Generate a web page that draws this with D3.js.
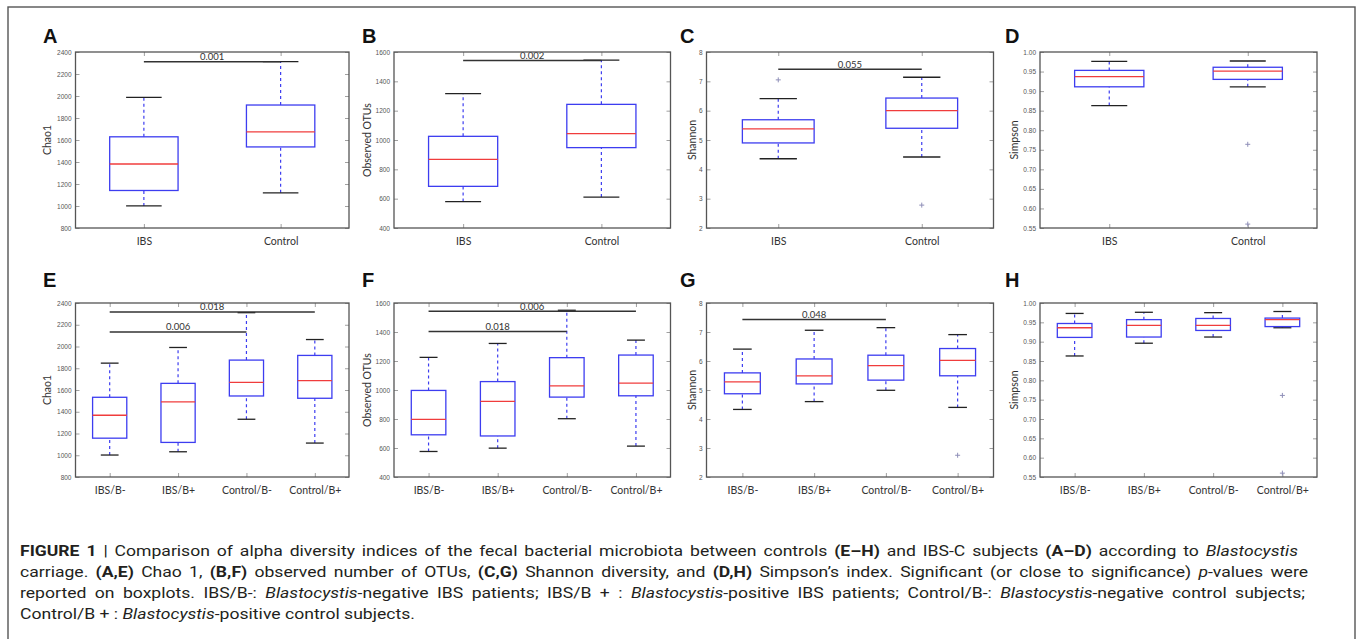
<!DOCTYPE html>
<html>
<head>
<meta charset="utf-8">
<script src="https://cdn.jsdelivr.net/npm/d3@7"></script>
<style>
  body { margin: 0; background: #fff; }
  svg { display: block; }
</style>
</head>
<body>
<svg id="fig" width="1358" height="639"></svg>
<script>
// categories
const groups2 = ["IBS", "Control"];
const groups4 = ["IBS/B-", "IBS/B+", "Control/B-", "Control/B+"];

// box stats: [lower whisker, Q1, median, Q3, upper whisker]
const chao1Top = [[1001, 1141, 1382, 1629, 1988], [1120, 1537, 1674, 1918, 2312]];
const otusTop = [[580, 684, 868, 1025, 1316], [611, 948, 1043, 1243, 1545]];
const shannonTop = [[4.36, 4.90, 5.38, 5.69, 6.41], [4.42, 5.40, 6.00, 6.43, 7.14]];
const simpsonTop = [[0.863, 0.911, 0.937, 0.953, 0.976], [0.911, 0.930, 0.951, 0.961, 0.977]];

const chao1Bottom = [[1002, 1157, 1368, 1533, 1847], [1032, 1118, 1490, 1661, 1991],
                     [1331, 1545, 1670, 1875, 2311], [1112, 1524, 1686, 1918, 2064]];
const otusBottom = [[576, 691, 798, 997, 1225], [599, 683, 921, 1058, 1321],
                    [802, 951, 1029, 1223, 1550], [613, 960, 1047, 1241, 1344]];
const shannonBottom = [[4.33, 4.87, 5.28, 5.59, 6.41], [4.60, 5.21, 5.49, 6.07, 7.06],
                       [4.99, 5.34, 5.84, 6.20, 7.15], [4.40, 5.49, 6.02, 6.43, 6.91]];
const simpsonBottom = [[0.863, 0.911, 0.936, 0.947, 0.973], [0.896, 0.912, 0.942, 0.957, 0.976],
                       [0.912, 0.929, 0.942, 0.960, 0.975], [0.936, 0.939, 0.957, 0.961, 0.978]];

// outliers: [category index, value]
const shannonTopOut = [[0, 7.05], [1, 2.78]];
const simpsonTopOut = [[1, 0.764], [1, 0.560]];
const shannonBottomOut = [[3, 2.75]];
const simpsonBottomOut = [[3, 0.761], [3, 0.560]];

// p-value bars: [from index, to index, y value, label]
const chao1TopP = [[0, 1, 2312, "0.001"]];
const otusTopP = [[0, 1, 1542, "0.002"]];
const shannonTopP = [[0, 1, 7.41, "0.055"]];
const chao1BottomP = [[0, 3, 2318, "0.018"], [0, 2, 2134, "0.006"]];
const otusBottomP = [[0, 3, 1543, "0.006"], [0, 2, 1403, "0.018"]];
const shannonBottomP = [[0, 2, 7.43, "0.048"]];

// y tick labels
const chao1Ticks = [800, 1000, 1200, 1400, 1600, 1800, 2000, 2200, 2400];
const otusTicks = [400, 600, 800, 1000, 1200, 1400, 1600];
const shannonTicks = [2, 3, 4, 5, 6, 7, 8];
const simpsonTicks = [0.55, 0.60, 0.65, 0.70, 0.75, 0.80, 0.85, 0.90, 0.95, 1.00];

const svg = d3.select("#fig");

// outer frame of the figure
svg.append("rect")
  .attr("x", 8).attr("y", 7).attr("width", 1347).attr("height", 660)
  .attr("fill", "none").attr("stroke", "#555").attr("stroke-width", 1.4);

// plot rectangles (layout only)
const cols = [[75.5, 349], [394, 670.5], [706.5, 993.5], [1040, 1317]];
const rows = [[52, 228], [303, 477]];
const ylabOffset = [28, 27, 14, 26];

const panels = [
  {letter: "A", cats: groups2, stats: chao1Top, out: [], p: chao1TopP, ticks: chao1Ticks, fmt: d3.format("d"), label: "Chao1", col: 0, row: 0},
  {letter: "B", cats: groups2, stats: otusTop, out: [], p: otusTopP, ticks: otusTicks, fmt: d3.format("d"), label: "Observed OTUs", col: 1, row: 0},
  {letter: "C", cats: groups2, stats: shannonTop, out: shannonTopOut, p: shannonTopP, ticks: shannonTicks, fmt: d3.format("d"), label: "Shannon", col: 2, row: 0},
  {letter: "D", cats: groups2, stats: simpsonTop, out: simpsonTopOut, p: [], ticks: simpsonTicks, fmt: d3.format(".2f"), label: "Simpson", col: 3, row: 0},
  {letter: "E", cats: groups4, stats: chao1Bottom, out: [], p: chao1BottomP, ticks: chao1Ticks, fmt: d3.format("d"), label: "Chao1", col: 0, row: 1},
  {letter: "F", cats: groups4, stats: otusBottom, out: [], p: otusBottomP, ticks: otusTicks, fmt: d3.format("d"), label: "Observed OTUs", col: 1, row: 1},
  {letter: "G", cats: groups4, stats: shannonBottom, out: shannonBottomOut, p: shannonBottomP, ticks: shannonTicks, fmt: d3.format("d"), label: "Shannon", col: 2, row: 1},
  {letter: "H", cats: groups4, stats: simpsonBottom, out: simpsonBottomOut, p: [], ticks: simpsonTicks, fmt: d3.format(".2f"), label: "Simpson", col: 3, row: 1}
];

const letterX = [43, 362, 680, 1005];
const letterY = [43, 287];

panels.forEach(drawPanel);

function drawPanel(p) {
  const [x0, x1] = cols[p.col];
  const [y0, y1] = rows[p.row];
  const n = p.cats.length;
  const x = d3.scaleLinear().domain([0.5, n + 0.5]).range([x0, x1]);
  const y = d3.scaleLinear().domain(d3.extent(p.ticks)).range([y1, y0]);
  const pos = d3.range(1, n + 1);
  const g = svg.append("g");

  // panel letter
  svg.append("text")
    .attr("x", letterX[p.col]).attr("y", letterY[p.row])
    .attr("font-family", "'Liberation Sans', Arial, sans-serif")
    .attr("font-weight", "bold").attr("font-size", 20)
    .attr("fill", "#111")
    .text(p.letter);

  g.append("rect")
    .attr("x", x0).attr("y", y0).attr("width", x1 - x0).attr("height", y1 - y0)
    .attr("fill", "#fff");

  // axes, ticks pointing inward on all four sides
  const left = g.append("g").attr("transform", `translate(${x0},0)`)
    .call(d3.axisLeft(y).tickValues(p.ticks).tickFormat(p.fmt).tickSize(-4).tickPadding(4));
  g.append("g").attr("transform", `translate(${x1},0)`)
    .call(d3.axisRight(y).tickValues(p.ticks).tickFormat("").tickSize(-4));
  const bottom = g.append("g").attr("transform", `translate(0,${y1})`)
    .call(d3.axisBottom(x).tickValues(pos).tickFormat((d, i) => p.cats[i]).tickSize(-4).tickPadding(10));
  g.append("g").attr("transform", `translate(0,${y0})`)
    .call(d3.axisTop(x).tickValues(pos).tickFormat("").tickSize(-4));

  g.selectAll(".domain").remove();
  g.selectAll(".tick line").attr("stroke", "#888").attr("stroke-width", 0.8);
  left.selectAll("text")
    .attr("font-family", "'Liberation Sans', Arial, sans-serif")
    .attr("font-size", 6.5).attr("fill", "#555");
  bottom.selectAll("text")
    .attr("font-family", "Lato, 'Open Sans', sans-serif")
    .attr("font-size", 10.5).attr("fill", "#333");

  // y label
  g.append("text")
    .attr("transform", `translate(${x0 - ylabOffset[p.col]},${(y0 + y1) / 2}) rotate(-90)`)
    .attr("text-anchor", "middle").attr("dy", "0.35em")
    .attr("font-family", "Lato, 'Open Sans', sans-serif")
    .attr("font-size", 10.5).attr("fill", "#333")
    .text(p.label);

  const half = 0.25, cap = 0.13;
  const boxes = g.selectAll(".bx").data(p.stats).join("g").attr("class", "bx");

  // whiskers
  boxes.append("line")
    .attr("x1", (d, i) => x(i + 1)).attr("x2", (d, i) => x(i + 1))
    .attr("y1", d => y(d[0])).attr("y2", d => y(d[1]))
    .attr("stroke", "#3d3df0").attr("stroke-width", 1.2).attr("stroke-dasharray", "3,3");
  boxes.append("line")
    .attr("x1", (d, i) => x(i + 1)).attr("x2", (d, i) => x(i + 1))
    .attr("y1", d => y(d[3])).attr("y2", d => y(d[4]))
    .attr("stroke", "#3d3df0").attr("stroke-width", 1.2).attr("stroke-dasharray", "3,3");

  // caps
  [0, 4].forEach(k => {
    boxes.append("line")
      .attr("x1", (d, i) => x(i + 1 - cap)).attr("x2", (d, i) => x(i + 1 + cap))
      .attr("y1", d => y(d[k])).attr("y2", d => y(d[k]))
      .attr("stroke", "#222").attr("stroke-width", 1.3);
  });

  // box
  boxes.append("rect")
    .attr("x", (d, i) => x(i + 1 - half))
    .attr("width", (d, i) => x(i + 1 + half) - x(i + 1 - half))
    .attr("y", d => y(d[3]))
    .attr("height", d => y(d[1]) - y(d[3]))
    .attr("fill", "none").attr("stroke", "#3d3df0").attr("stroke-width", 1.3);

  // median
  boxes.append("line")
    .attr("x1", (d, i) => x(i + 1 - half)).attr("x2", (d, i) => x(i + 1 + half))
    .attr("y1", d => y(d[2])).attr("y2", d => y(d[2]))
    .attr("stroke", "#f03c3c").attr("stroke-width", 1.3);

  // outliers as small plus signs
  g.selectAll(".fl").data(p.out).join("path").attr("class", "fl")
    .attr("d", d => {
      const cx = x(d[0] + 1), cy = y(d[1]);
      return `M${cx - 2.5},${cy}H${cx + 2.5}M${cx},${cy - 2.5}V${cy + 2.5}`;
    })
    .attr("stroke", "#8f8fb8").attr("stroke-width", 1);

  // p-value bars
  const pb = g.selectAll(".pv").data(p.p).join("g").attr("class", "pv");
  pb.append("line")
    .attr("x1", d => x(d[0] + 1)).attr("x2", d => x(d[1] + 1))
    .attr("y1", d => y(d[2])).attr("y2", d => y(d[2]))
    .attr("stroke", "#333").attr("stroke-width", 1.5);
  pb.append("text")
    .attr("x", d => (x(d[0] + 1) + x(d[1] + 1)) / 2)
    .attr("y", d => y(d[2]) - 1.5)
    .attr("text-anchor", "middle")
    .attr("font-family", "Lato, 'Open Sans', sans-serif")
    .attr("font-size", 9.5).attr("fill", "#333")
    .text(d => d[3]);

  // plot frame
  g.append("rect")
    .attr("x", x0).attr("y", y0).attr("width", x1 - x0).attr("height", y1 - y0)
    .attr("fill", "none").attr("stroke", "#555").attr("stroke-width", 1.3);
}

// caption: justified lines in a condensed-looking face
const captionLines = [
  [["FIGURE 1", "b"], [" | ", ""], ["Comparison of alpha diversity indices of the fecal bacterial microbiota between controls ", ""],
   ["(E–H)", "b"], [" and IBS-C subjects ", ""], ["(A–D)", "b"], [" according to ", ""], ["Blastocystis", "i"]],
  [["carriage. ", ""], ["(A,E)", "b"], [" Chao 1, ", ""], ["(B,F)", "b"], [" observed number of OTUs, ", ""],
   ["(C,G)", "b"], [" Shannon diversity, and ", ""], ["(D,H)", "b"],
   [" Simpson’s index. Significant (or close to significance) ", ""], ["p", "i"], ["-values were", ""]],
  [["reported on boxplots. IBS/B-: ", ""], ["Blastocystis", "i"], ["-negative IBS patients; IBS/B + : ", ""],
   ["Blastocystis", "i"], ["-positive IBS patients; Control/B-: ", ""], ["Blastocystis", "i"],
   ["-negative control subjects;", ""]],
  [["Control/B + : ", ""], ["Blastocystis", "i"], ["-positive control subjects.", ""]]
];
const captionWidths = [1278, 1288, 1285];

const capTexts = captionLines.map((line, li) => {
  const gl = svg.append("g");
  const t = gl.append("text")
    .attr("x", 0).attr("y", 0)
    .attr("font-family", "Roboto, 'Liberation Sans', Arial, sans-serif")
    .attr("font-size", 15.5).attr("fill", "#231f20")
    .attr("xml:space", "preserve");
  line.forEach(([s, st]) => {
    t.append("tspan")
      .attr("font-weight", st === "b" ? "bold" : null)
      .attr("font-style", st === "i" ? "italic" : null)
      .text(s);
  });
  return {gl, t, li, spaces: line.map(d => d[0]).join("").split(" ").length - 1};
});

// one horizontal squeeze for every line, chosen so line 1 needs ~2.5px extra per space
const first = capTexts[0];
const squeeze = (captionWidths[0] - 2.5 * first.spaces) / first.t.node().getComputedTextLength();
capTexts.forEach(({gl, t, li, spaces}) => {
  gl.attr("transform", `translate(20,${556 + li * 21}) scale(${squeeze},1)`);
  if (li < 3) {
    const natural = t.node().getComputedTextLength();
    const extra = (captionWidths[li] / squeeze - natural) / spaces;
    t.style("word-spacing", `${extra}px`);
  }
});
</script>
</body>
</html>
